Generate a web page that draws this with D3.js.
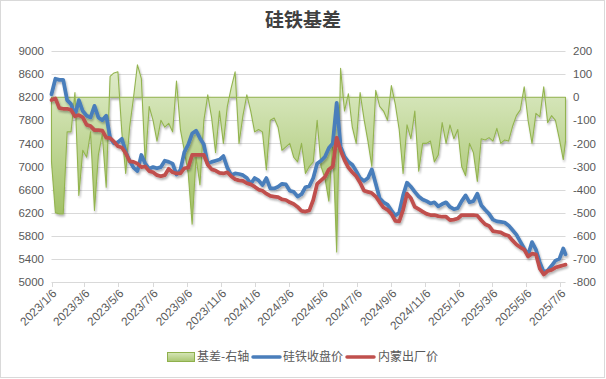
<!DOCTYPE html>
<html><head><meta charset="utf-8">
<script src="https://cdn.jsdelivr.net/npm/d3@7"></script>
<style>
html,body{margin:0;padding:0;background:#fff;}
svg{display:block;font-family:"Liberation Sans","Noto Sans CJK SC",sans-serif;}
</style></head><body>
<svg id="c" width="606" height="379"></svg>
<script>
const dates = [
"2023-01-06","2023-01-13","2023-01-20","2023-01-27","2023-02-03","2023-02-10","2023-02-17","2023-02-24",
"2023-03-03","2023-03-10","2023-03-17","2023-03-24","2023-03-31","2023-04-07","2023-04-14","2023-04-21","2023-04-28",
"2023-05-05","2023-05-12","2023-05-19","2023-05-26","2023-06-02","2023-06-09","2023-06-16","2023-06-23","2023-06-30",
"2023-07-07","2023-07-14","2023-07-21","2023-07-28","2023-08-04","2023-08-11","2023-08-18","2023-08-25",
"2023-09-01","2023-09-08","2023-09-15","2023-09-22","2023-09-29","2023-10-06","2023-10-13","2023-10-20","2023-10-27",
"2023-11-03","2023-11-10","2023-11-17","2023-11-24","2023-12-01","2023-12-08","2023-12-15","2023-12-22","2023-12-29",
"2024-01-05","2024-01-12","2024-01-19","2024-01-26","2024-02-02","2024-02-09","2024-02-16","2024-02-23",
"2024-03-01","2024-03-08","2024-03-15","2024-03-22","2024-03-29","2024-04-05","2024-04-12","2024-04-19","2024-04-26",
"2024-05-03","2024-05-10","2024-05-17","2024-05-24","2024-05-31","2024-06-07","2024-06-14","2024-06-21","2024-06-28",
"2024-07-05","2024-07-12","2024-07-19","2024-07-26","2024-08-02","2024-08-09","2024-08-16","2024-08-23","2024-08-30",
"2024-09-06","2024-09-13","2024-09-20","2024-09-27","2024-10-04","2024-10-11","2024-10-18","2024-10-25",
"2024-11-01","2024-11-08","2024-11-15","2024-11-22","2024-11-29","2024-12-06","2024-12-13","2024-12-20","2024-12-27",
"2025-01-03","2025-01-10","2025-01-17","2025-01-24","2025-01-31","2025-02-07","2025-02-14","2025-02-21","2025-02-28",
"2025-03-07","2025-03-14","2025-03-21","2025-03-28","2025-04-04","2025-04-11","2025-04-18","2025-04-25",
"2025-05-02","2025-05-09","2025-05-16","2025-05-23","2025-05-30","2025-06-06","2025-06-13","2025-06-20","2025-06-27",
"2025-07-04","2025-07-11","2025-07-15"];

const closePrice = [
8250,8520,8500,8500,8150,8080,7880,8150,7960,7880,
7850,8050,7850,7800,7880,7500,7400,7420,7480,7250,
7100,6980,6920,7200,7050,6960,6990,6970,6990,7100,
7080,7050,6860,6940,7250,7380,7570,7620,7490,7380,
7050,7080,7100,7120,7180,6980,6850,6880,6870,6850,
6800,6700,6800,6760,6680,6800,6620,6620,6650,6700,
6690,6580,6560,6480,6520,6640,6660,6800,7050,7100,
7170,7320,7400,8100,7350,7170,7080,7030,6920,6800,
6750,6800,6950,6700,6450,6380,6340,6240,6150,6200,
6500,6720,6650,6560,6480,6430,6400,6360,6380,6310,
6350,6380,6300,6260,6280,6400,6500,6380,6400,6530,
6330,6250,6180,6080,6050,6040,6030,5980,5900,5820,
5700,5580,5470,5690,5560,5340,5170,5200,5280,5370,
5400,5580,5480];

const factoryPrice = [
8150,8180,8010,8000,8000,7980,7870,7890,7850,7720,
7700,7630,7630,7620,7500,7490,7430,7350,7330,7230,
7090,7080,7050,6990,7000,6920,6900,6850,6830,6850,
6960,6900,6880,6880,6970,6980,7200,7200,7200,7200,
7030,6950,6930,6890,6880,6900,6830,6780,6760,6750,
6710,6690,6650,6600,6580,6530,6490,6480,6470,6430,
6420,6380,6350,6300,6230,6220,6240,6420,6700,6760,
6820,6950,7000,7500,7280,7110,6980,6900,6830,6720,
6580,6560,6540,6480,6380,6290,6250,6180,6060,6050,
6250,6530,6450,6300,6260,6220,6180,6160,6160,6140,
6130,6130,6070,6080,6100,6160,6160,6160,6160,6150,
6070,6000,5970,5880,5870,5860,5820,5800,5720,5650,
5600,5560,5440,5490,5480,5230,5130,5190,5210,5250,
5270,5290,5300];

const basis = [
-280,-500,-505,-505,-150,-150,20,-425,-230,-260,
-150,-490,-250,-160,-390,90,105,110,-150,-330,
-130,0,140,80,-290,-40,-100,-190,-100,-130,
-113,-150,70,-140,-230,-330,-550,-260,-380,-100,
10,-90,-240,-60,-200,-40,40,110,-200,-80,
10,-60,-150,-140,-150,-315,-100,-90,-130,-230,
-215,-200,-260,-280,-200,-330,-300,-280,-100,-300,
-350,-450,-190,-670,125,-60,15,-130,-200,20,
-95,-190,-300,30,-40,-60,-100,50,-30,-140,
-330,-120,-180,-60,-320,-200,-200,-190,-280,-250,
-110,-200,-120,-180,-140,-300,-340,-200,-240,-365,
-180,-185,-175,-190,-135,-200,-185,-190,-127,-80,
-55,45,-100,-200,-70,-85,45,-110,-80,-100,
-180,-270,-190];

const leftTicks = [5000,5400,5800,6200,6600,7000,7400,7800,8200,8600,9000];
const rightTicks = [-800,-700,-600,-500,-400,-300,-200,-100,0,100,200];
const xTickLabels = ["2023/1/6","2023/3/6","2023/5/6","2023/7/6","2023/9/6","2023/11/6",
"2024/1/6","2024/3/6","2024/5/6","2024/7/6","2024/9/6","2024/11/6",
"2025/1/6","2025/3/6","2025/5/6","2025/7/6"];
const seriesNames = ["基差-右轴","硅铁收盘价","内蒙出厂价"];
const titleText = "硅铁基差";

const parse = d3.timeParse("%Y-%m-%d");
const parseTick = d3.timeParse("%Y/%m/%d");
const rows = dates.map((d,i)=>({date:parse(d), close:closePrice[i], factory:factoryPrice[i], basis:basis[i]}));

const svg = d3.select("#c");
const W=606,H=379;
const L=51.5, R=565.5, T=51, B=282;

const x = d3.scaleTime().domain([parse("2023-01-06"), parse("2025-07-15")]).range([L,R]);
const yL = d3.scaleLinear().domain([5000,9000]).range([B,T]);
const yR = d3.scaleLinear().domain([-800,200]).range([B,T]);

const defs = svg.append("defs");
const g1 = defs.append("linearGradient").attr("id","gfill").attr("gradientUnits","userSpaceOnUse")
  .attr("x1",0).attr("x2",0).attr("y1",yR(200)).attr("y2",yR(-700));
g1.append("stop").attr("offset","0").attr("stop-color","#e6efd6");
g1.append("stop").attr("offset","0.25").attr("stop-color","#d2e3b4");
g1.append("stop").attr("offset","0.75").attr("stop-color","#a6c46c");
g1.append("stop").attr("offset","1").attr("stop-color","#93b551");
const g2 = defs.append("linearGradient").attr("id","gleg").attr("x1",0).attr("x2",0).attr("y1",0).attr("y2",1);
g2.append("stop").attr("offset","0").attr("stop-color","#d6e6b8");
g2.append("stop").attr("offset","1").attr("stop-color","#a9c671");

const f = defs.append("filter").attr("id","sh").attr("filterUnits","userSpaceOnUse")
  .attr("x",0).attr("y",0).attr("width",W).attr("height",H);
f.append("feGaussianBlur").attr("in","SourceAlpha").attr("stdDeviation",1.3).attr("result","b");
f.append("feOffset").attr("in","b").attr("dx",1).attr("dy",2).attr("result","o");
const ct = f.append("feComponentTransfer").attr("in","o").attr("result","s");
ct.append("feFuncA").attr("type","linear").attr("slope",0.3);
const fm = f.append("feMerge");
fm.append("feMergeNode").attr("in","s");
fm.append("feMergeNode").attr("in","SourceGraphic");

// frame
svg.append("rect").attr("x",0.5).attr("y",0.5).attr("width",W-2).attr("height",H-2)
  .attr("fill","#fff").attr("stroke","#d9d9d9");

// title
svg.append("text").attr("x",303).attr("y",27).attr("text-anchor","middle")
  .attr("font-size",19).attr("font-weight","bold").attr("fill","#404040")
  .attr("font-family","Noto Sans CJK SC").text(titleText);

// gridlines
svg.append("g").selectAll("line").data(leftTicks.slice(1)).join("line")
  .attr("x1",L).attr("x2",R)
  .attr("y1",d=>Math.round(yL(d))+0.5).attr("y2",d=>Math.round(yL(d))+0.5)
  .attr("stroke","#d9d9d9").attr("stroke-width",1);

// left axis labels
svg.append("g").selectAll("text").data(leftTicks).join("text")
  .attr("x",44).attr("y",d=>yL(d)).attr("dy","0.36em").attr("text-anchor","end")
  .attr("font-size",11.5).attr("fill","#595959").text(d=>d);
// right axis labels
svg.append("g").selectAll("text").data(rightTicks).join("text")
  .attr("x",573).attr("y",d=>yR(d)).attr("dy","0.36em").attr("text-anchor","start")
  .attr("font-size",11.5).attr("fill","#595959").text(d=>d);

// x axis
const xTicks = xTickLabels.map(parseTick);
svg.append("line").attr("x1",L).attr("x2",R).attr("y1",B+0.5).attr("y2",B+0.5)
  .attr("stroke","#d9d9d9");
svg.append("g").selectAll("line").data(xTicks).join("line")
  .attr("x1",d=>Math.round(x(d))+0.5).attr("x2",d=>Math.round(x(d))+0.5)
  .attr("y1",B).attr("y2",B+5).attr("stroke","#d9d9d9");
svg.append("g").selectAll("text").data(xTicks).join("text")
  .attr("transform",d=>`translate(${x(d)+3},${B+9}) rotate(-45)`)
  .attr("text-anchor","end").attr("dy","0.36em")
  .attr("font-size",11.8).attr("fill","#595959")
  .text((d,i)=>xTickLabels[i]);

// basis area
const area = d3.area().x(d=>x(d.date)).y0(yR(0)).y1(d=>yR(d.basis));
const areaG = svg.append("g").attr("filter","url(#sh)");
areaG.append("path").datum(rows).attr("d",d=>area(d)+"Z")
  .attr("fill","url(#gfill)").attr("stroke","#93b44f").attr("stroke-width",1.1)
  .attr("stroke-linejoin","round");

// lines
const lineClose = d3.line().x(d=>x(d.date)).y(d=>yL(d.close));
const lineFactory = d3.line().x(d=>x(d.date)).y(d=>yL(d.factory));
const lg = svg.append("g").attr("filter","url(#sh)");
lg.append("path").datum(rows).attr("d",lineClose).attr("fill","none")
  .attr("stroke","#4a7ebb").attr("stroke-width",3.75).attr("stroke-linejoin","round").attr("stroke-linecap","round");
lg.append("path").datum(rows).attr("d",lineFactory).attr("fill","none")
  .attr("stroke","#c0504d").attr("stroke-width",3.75).attr("stroke-linejoin","round").attr("stroke-linecap","round");

// legend
const ly = 357;
const leg = svg.append("g").attr("font-size",12).attr("fill","#595959").attr("font-family","Noto Sans CJK SC");
leg.append("rect").attr("x",167.5).attr("y",ly-4.5).attr("width",27).attr("height",9)
  .attr("fill","url(#gleg)").attr("stroke","#8fb04c");
leg.append("text").attr("x",197).attr("y",ly).attr("dy","0.36em").text(seriesNames[0]);
leg.append("line").attr("x1",253).attr("x2",280).attr("y1",ly).attr("y2",ly)
  .attr("stroke","#4a7ebb").attr("stroke-width",3.5).attr("stroke-linecap","round");
leg.append("text").attr("x",283).attr("y",ly).attr("dy","0.36em").text(seriesNames[1]);
leg.append("line").attr("x1",347).attr("x2",374).attr("y1",ly).attr("y2",ly)
  .attr("stroke","#c0504d").attr("stroke-width",3.5).attr("stroke-linecap","round");
leg.append("text").attr("x",378).attr("y",ly).attr("dy","0.36em").text(seriesNames[2]);
</script>
</body></html>
